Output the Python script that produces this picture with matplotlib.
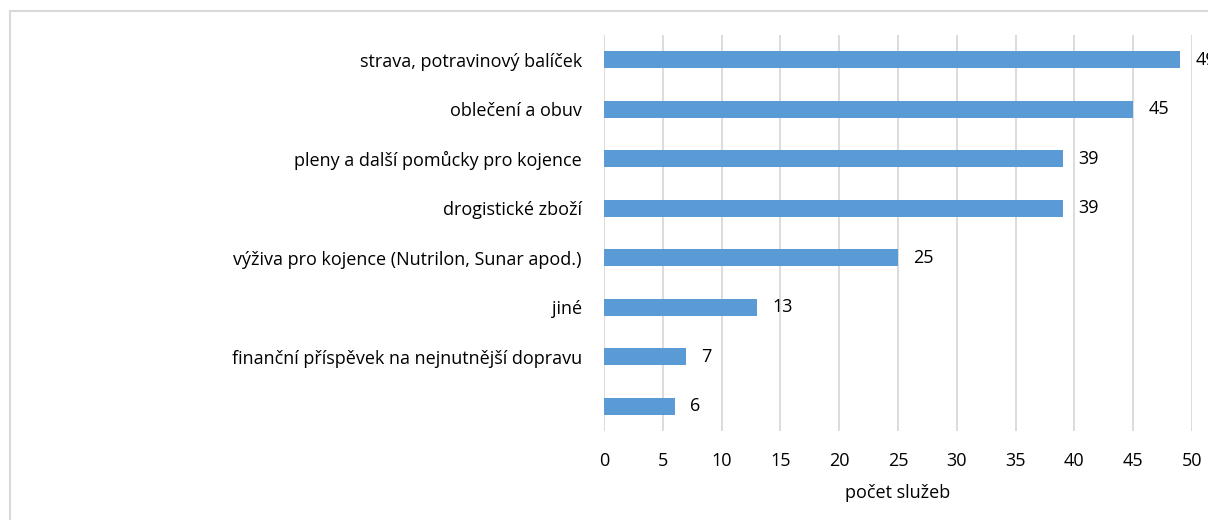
import matplotlib
matplotlib.use("Agg")
import matplotlib.pyplot as plt
from matplotlib.lines import Line2D

categories = [
    "strava, potravinový balíček",
    "oblečení a obuv",
    "pleny a další pomůcky pro kojence",
    "drogistické zboží",
    "výživa pro kojence (Nutrilon, Sunar apod.)",
    "jiné",
    "finanční příspěvek na nejnutnější dopravu",
    "",
]
values = [49, 45, 39, 39, 25, 13, 7, 6]
xticks = [0, 5, 10, 15, 20, 25, 30, 35, 40, 45, 50]
xlabel = "počet služeb"

plt.rcParams['font.family'] = ['Open Sans', 'DejaVu Sans']
W, H = 1208, 520
fs = 13
fig = plt.figure(figsize=(W / 100, H / 100), dpi=100)
ax = fig.add_axes([604 / W, 1 - 431 / H, (1192 - 604) / W, (431 - 35) / H])

ypos = list(range(len(categories)))
ax.barh(ypos, values, height=0.35, color="#5B9BD5", zorder=3)
ax.set_ylim(len(categories) - 0.5, -0.5)
ax.set_xlim(0, 50)
ax.set_xticks(xticks)
ax.set_xticklabels([str(t) for t in xticks], fontsize=fs, color="#000000")
ax.set_yticks(ypos)
ax.set_yticklabels(categories, fontsize=fs, color="#000000")
ax.tick_params(axis="y", length=0, pad=16)
ax.tick_params(axis="x", length=0, pad=15)
ax.xaxis.grid(True, color="#D9D9D9", linewidth=1.3, zorder=0)
for s in ax.spines.values():
    s.set_visible(False)
ax.set_xlabel(xlabel, fontsize=fs, labelpad=10)

for y, v in zip(ypos, values):
    ax.text(v + 1.3, y, str(v), va="center", ha="left", fontsize=fs, clip_on=False)

fig.add_artist(Line2D([9.5 / W, 9.5 / W], [0, 1 - 11 / H], transform=fig.transFigure, color="#D9D9D9", linewidth=1.5))
fig.add_artist(Line2D([9.5 / W, 1], [1 - 11 / H, 1 - 11 / H], transform=fig.transFigure, color="#D9D9D9", linewidth=1.5))

fig.savefig("out.png", dpi=100)
